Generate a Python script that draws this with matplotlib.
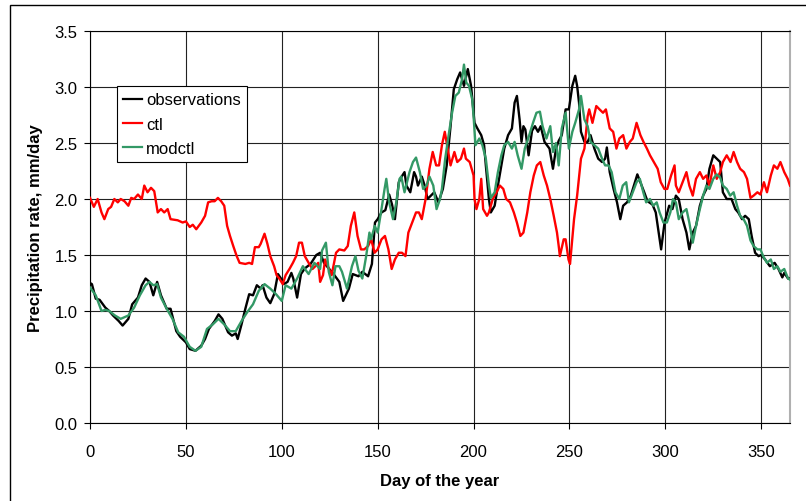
import matplotlib
matplotlib.use("Agg")
import matplotlib.pyplot as plt
from matplotlib.patches import Rectangle

plt.rcParams['font.family'] = ['Liberation Sans', 'DejaVu Sans']

obs_day = [0,1,3,5,8,10,12,15,17,20,22,25,27,29,31,33,35,37,40,42,45,47,50,52,55,58,60,62,65,67,69,72,74,76,77,79,81,83,85,87,89,90,92,94,96,98,100,101,103,105,106,108,110,112,115,118,120,122,125,127,130,132,135,137,140,142,145,147,148.6,150,152,154,156,157.5,159,161,162.5,164,165,167,169,170,171,173,174.5,176,179.5,181.7,184,186,188,189.7,191.5,193,195,197,198.7,200.5,202,204,205.5,206.4,208,209,211,212.7,214.5,216,218,220,221.4,222.6,224,225,226,227,228.7,230.5,232,233.6,235,237,239.6,241.4,243,244.4,246,248,249.7,251.5,253,254,255,256,257.8,259.5,261,263,265,267,268.6,269.5,271,273,274.8,276.5,278,280,282,283.6,285.4,287,289,290.7,293.3,295,297,297.8,299.6,302,303.7,305.5,307,309,311,312.5,314.3,316,318,319.7,321.4,323,325,326.8,328.6,330,332,334.5,336.5,338,340,341.6,343.5,345,346.8,348.6,350,352,354.5,357,359,361,362,364,365]
obs_val = [1.25,1.24,1.11,1.10,1.03,1.00,0.96,0.91,0.87,0.93,1.06,1.12,1.23,1.29,1.26,1.14,1.26,1.14,1.02,1.02,0.82,0.77,0.72,0.66,0.645,0.69,0.75,0.84,0.91,0.97,0.93,0.81,0.78,0.80,0.75,0.88,1.02,1.15,1.14,1.23,1.20,1.23,1.12,1.07,1.15,1.33,1.28,1.24,1.26,1.34,1.29,1.12,1.33,1.38,1.42,1.50,1.52,1.43,1.37,1.33,1.26,1.09,1.20,1.33,1.31,1.35,1.31,1.42,1.79,1.82,1.88,1.90,2.04,1.95,1.82,2.15,2.20,2.24,2.12,2.06,2.24,2.20,2.12,2.20,2.12,2.00,2.06,1.97,2.09,2.30,2.65,2.98,3.07,3.13,3.01,3.16,3.01,2.68,2.63,2.57,2.48,2.30,2.00,1.88,1.94,2.12,2.30,2.45,2.57,2.63,2.86,2.92,2.71,2.51,2.65,2.62,2.39,2.61,2.65,2.60,2.65,2.51,2.45,2.27,2.45,2.52,2.57,2.80,2.80,3.01,3.10,3.01,2.86,2.60,2.51,2.51,2.57,2.45,2.36,2.33,2.36,2.46,2.24,2.09,1.97,1.82,1.94,1.97,2.03,2.12,2.22,2.15,2.06,1.98,1.95,1.88,1.64,1.55,1.79,1.94,1.91,2.03,2.00,1.82,1.70,1.55,1.70,1.76,1.94,2.03,2.09,2.27,2.39,2.36,2.33,2.06,2.00,2.00,1.91,1.88,1.82,1.85,1.82,1.67,1.52,1.49,1.50,1.46,1.40,1.43,1.375,1.30,1.34,1.29,1.29]

ctl_day = [0,2,4,6,7.5,9.5,11,12.7,14.5,16,18,20,21.5,23,25,27,28.3,30,31.8,33.5,35.3,37,38.7,40.5,42,45.7,48.3,50,52,53.6,55.4,58,60,61.6,63.4,65,66.7,68.4,70,71.5,73,74.7,76.5,78,81,83,84.5,86,88,89,91,92.5,94,96,97.3,98.7,100.5,102,104,105.8,107.5,109,110.5,112,114,116,117.5,119,120,121.5,122.6,124,126,128.3,130,132.6,134.4,136,137.8,139.5,141.3,143,145,146.6,148.4,150,152,153.8,155.6,157.3,159,161,162.7,164.5,166,168,170,171.5,173,175,177,178.7,180.5,182,183.5,185,186,188,190,191.5,193.4,195,196,198,200,200.5,201.5,203,204,205,207,208,210,212,213.7,215.5,217,219,221,222.6,224.4,226,228,229.6,231.4,233,234.8,236.6,238.3,240,241.8,243.5,244.4,245,247,248,249.5,250.3,251,252.4,254,256,257.8,259.5,260.3,262,264,265.7,267.5,269,271,272.8,274.5,276,278,279.7,281.5,283,285,287,288.6,290.4,292,294,296,297.6,299.5,301,303,304.8,305.5,307,309,311,312.5,314.3,316,318,319.7,321.4,323,325,326.8,328.6,330,332,334,335.6,337.4,339,341,342.6,344.4,346,348,349.6,351.4,353,355,356.6,358.4,360,362,363.8,365]
ctl_val = [2.01,1.93,2.00,1.88,1.82,1.91,1.93,2.00,1.97,2.00,1.98,1.94,2.01,2.00,2.04,2.00,2.12,2.06,2.10,2.07,1.88,1.91,1.88,1.91,1.82,1.81,1.79,1.80,1.75,1.77,1.73,1.79,1.85,1.97,1.98,1.98,2.01,1.98,1.94,1.76,1.67,1.58,1.49,1.43,1.42,1.43,1.42,1.57,1.57,1.60,1.69,1.60,1.49,1.40,1.32,1.29,1.24,1.32,1.375,1.43,1.49,1.61,1.61,1.49,1.43,1.375,1.40,1.43,1.26,1.32,1.46,1.40,1.32,1.52,1.55,1.54,1.58,1.76,1.88,1.67,1.55,1.55,1.58,1.64,1.52,1.55,1.64,1.67,1.55,1.375,1.46,1.52,1.52,1.49,1.70,1.79,1.88,1.88,1.82,2.00,2.27,2.42,2.30,2.30,2.48,2.60,2.50,2.30,2.42,2.33,2.36,2.45,2.36,2.33,2.21,2.00,1.91,2.00,2.18,1.91,1.85,1.88,2.00,2.06,2.12,2.09,2.00,1.97,1.88,1.79,1.67,1.70,1.88,2.06,2.21,2.30,2.33,2.21,2.12,2.00,1.85,1.70,1.58,1.49,1.64,1.64,1.46,1.42,1.55,1.82,2.03,2.36,2.45,2.74,2.80,2.68,2.83,2.80,2.77,2.80,2.63,2.60,2.45,2.54,2.57,2.45,2.51,2.54,2.68,2.57,2.51,2.45,2.39,2.33,2.27,2.15,2.09,2.09,2.21,2.30,2.12,2.06,2.15,2.24,2.12,2.03,2.18,2.24,2.18,2.21,2.12,2.30,2.18,2.24,2.33,2.39,2.33,2.42,2.33,2.27,2.24,2.18,2.01,2.03,2.06,2.04,2.15,2.06,2.21,2.30,2.27,2.33,2.24,2.18,2.12]

mod_day = [0,3,6,8,10,13,16,20,23,26,29,31,33,35,37,40,43,46,49,52,55,58,61,64,67,70,73,76,79,82,85,88,91,94,97,100,102,105,108,111,114,117,120,121,123,124.5,126.4,128,130,131.4,134,136.6,138.4,140,142,144,145.7,146.5,148.5,150,152,153.6,154.5,156,158,159.7,161.4,162.3,164,166.6,168.4,170,172,173.7,175.5,177,179,180.7,182.5,183.5,185.2,187,188.8,190.5,192.3,194,195,196.2,197.6,199.3,200,201,203,204.6,206.4,208,209,211,212.7,214.5,216,218,220,221.4,223,225,226.7,228.5,231,232.8,234.6,236,238,240,241.4,243,244.4,246,248,249.7,251.5,253,255,256,257.8,259.5,261,263,265,267,268.6,270.4,272,274,276,277.8,279.6,281,283,285,286.7,288.5,290,292,293.7,295.5,297,299,300.8,302.6,304,305.5,307,309,311,312.5,314.3,316,318,319.7,321.4,323,325,326.8,328.6,330,332,333.8,335.6,337.4,339,340.8,342.6,344.4,346,348,349.6,351,353,355,356.6,358.4,360,362,364,365]
mod_val = [1.21,1.14,1.00,1.01,1.00,0.96,0.93,0.96,1.03,1.14,1.23,1.26,1.23,1.24,1.12,1.02,0.93,0.81,0.77,0.68,0.645,0.68,0.84,0.88,0.93,0.88,0.82,0.82,0.91,0.99,1.06,1.18,1.24,1.20,1.15,1.09,1.23,1.20,1.29,1.40,1.33,1.43,1.375,1.54,1.61,1.35,1.23,1.40,1.40,1.35,1.20,1.40,1.49,1.36,1.29,1.49,1.70,1.64,1.76,1.70,1.91,2.09,2.18,1.97,1.82,1.97,2.18,2.20,2.06,2.24,2.33,2.37,2.24,2.09,2.12,2.20,2.12,1.91,2.00,2.09,2.36,2.57,2.77,2.92,2.95,3.07,3.20,3.04,3.01,2.89,2.74,2.48,2.54,2.48,2.36,2.12,2.01,2.06,2.24,2.39,2.48,2.51,2.45,2.51,2.39,2.27,2.45,2.54,2.68,2.77,2.78,2.65,2.54,2.65,2.42,2.50,2.30,2.63,2.77,2.45,2.60,2.68,2.80,2.92,2.71,2.65,2.51,2.48,2.45,2.36,2.30,2.30,2.24,2.06,2.00,2.12,2.15,1.97,2.06,2.15,2.18,2.06,1.97,2.00,1.94,1.97,1.88,1.79,1.79,1.88,2.00,1.97,1.82,1.88,1.91,1.79,1.61,1.76,1.91,2.03,2.12,2.09,2.18,2.22,2.19,2.12,2.09,2.03,2.06,1.94,1.85,1.82,1.76,1.63,1.58,1.55,1.55,1.49,1.43,1.46,1.375,1.40,1.35,1.375,1.29,1.28]

x_ticks = [0, 50, 100, 150, 200, 250, 300, 350]
y_ticks = [0.0, 0.5, 1.0, 1.5, 2.0, 2.5, 3.0, 3.5]

W, H = 806, 502
fig = plt.figure(figsize=(W/100, H/100), dpi=100)
ax = fig.add_axes([90/W, 1-424/H, (790-90)/W, (424-32)/H])

ax.plot(obs_day, obs_val, color='black', lw=1.7, label='observations', zorder=3)
ax.plot(ctl_day, ctl_val, color='#ff0000', lw=1.7, label='ctl', zorder=3)
ax.plot(mod_day, mod_val, color='#339966', lw=1.7, label='modctl', zorder=4)

ax.set_xlim(0, 365)
ax.set_ylim(0, 3.5)
ax.set_xticks(x_ticks)
ax.set_yticks(y_ticks)
ax.set_yticklabels([f"{v:.1f}" for v in y_ticks])
ax.grid(True, color='#222222', lw=0.8, zorder=1)
ax.tick_params(axis='y', direction='out', length=4, width=0.8, pad=5, labelsize=12)
ax.tick_params(axis='x', direction='out', length=4, width=0.8, pad=11, labelsize=12)
for s in ['left', 'bottom', 'top']:
    ax.spines[s].set_color('black')
    ax.spines[s].set_linewidth(0.8)
ax.spines['right'].set_color('#b0b0b0')
ax.spines['right'].set_linewidth(1.5)

ax.set_xlabel('Day of the year', fontsize=12, fontweight='bold', labelpad=10)
ax.set_ylabel('Precipitation rate, mm/day', fontsize=12, fontweight='bold', labelpad=8)

leg = ax.legend(loc='upper left', bbox_to_anchor=(117/W, 1-87/H), bbox_transform=fig.transFigure,
                fontsize=12, frameon=True, fancybox=False, borderaxespad=0, shadow=False,
                handlelength=1.1, handletextpad=0.25, labelspacing=0.55, borderpad=0.38)
leg.get_frame().set_edgecolor('black')
leg.get_frame().set_linewidth(0.8)
leg.get_frame().set_alpha(1.0)
for line in leg.get_lines():
    line.set_linewidth(1.6)

fig.add_artist(Rectangle((10/W, -0.1), 1.2, 1.1 - 6/H, transform=fig.transFigure,
                         fill=False, edgecolor='black', lw=1.0))

fig.savefig('out.png', dpi=100)
